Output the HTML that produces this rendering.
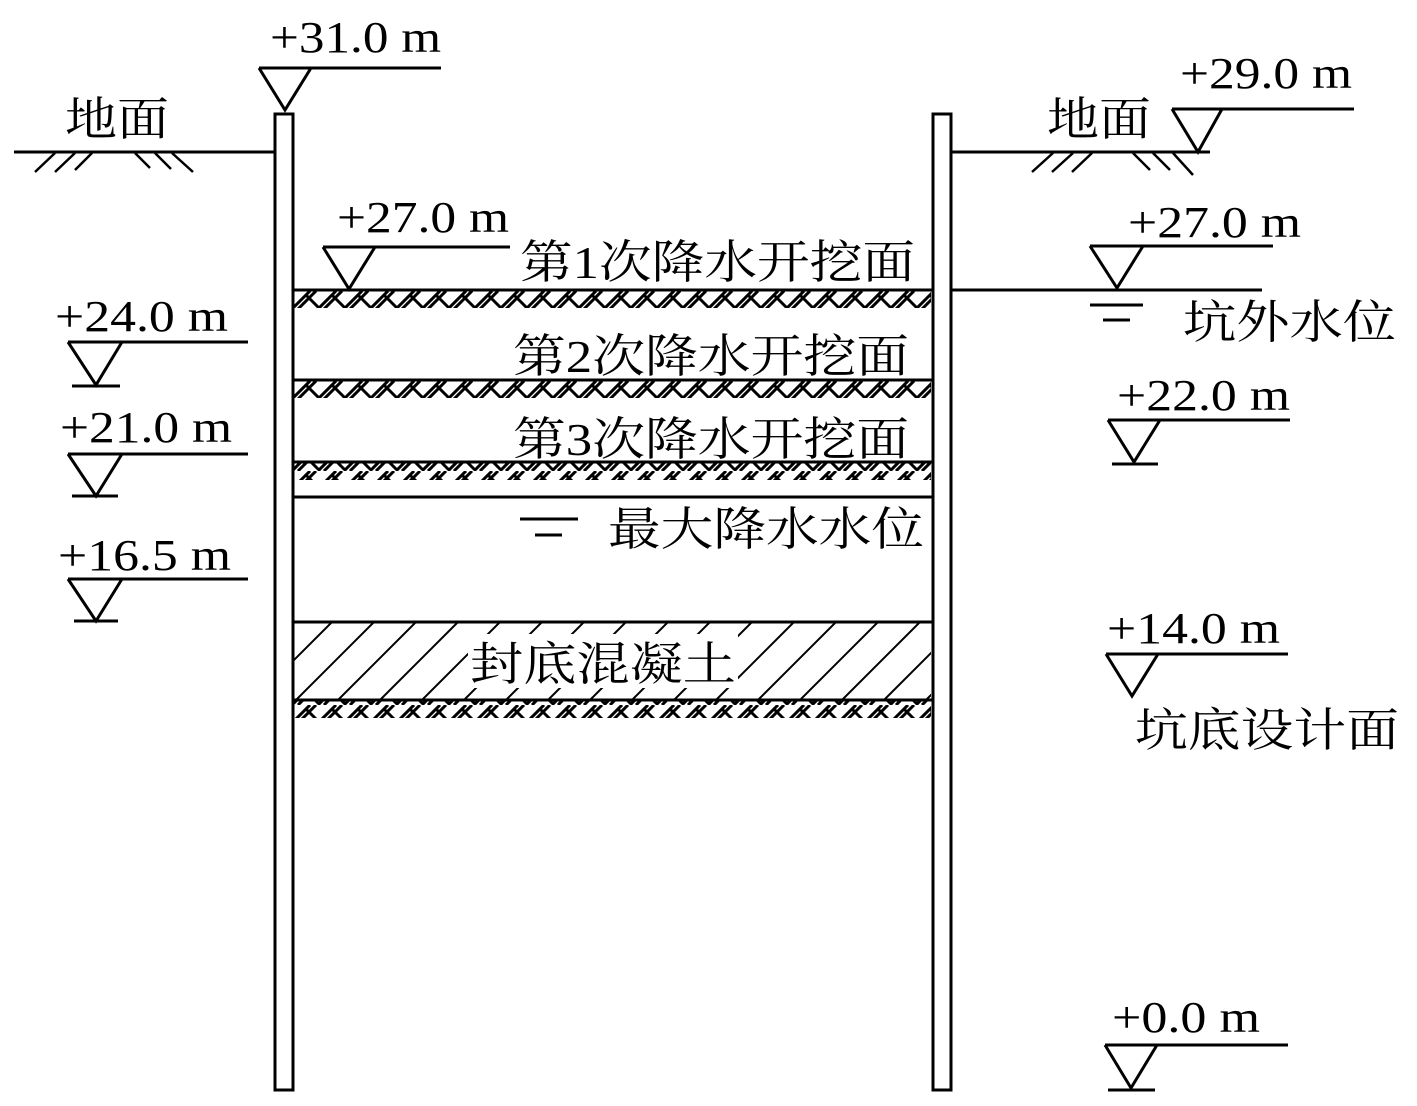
<!DOCTYPE html>
<html><head><meta charset="utf-8"><style>
html,body{margin:0;padding:0;background:#fff}
svg{display:block}
text{font-family:"Liberation Serif","Noto Serif CJK SC",serif;fill:#000}
.n{font-size:44px}
.c{font-size:46px}
</style></head><body>
<svg width="1417" height="1106" viewBox="0 0 1417 1106" xmlns="http://www.w3.org/2000/svg">
<defs>
<pattern id="soil" patternUnits="userSpaceOnUse" x="294" y="291" width="26" height="18">
<path d="M-2 18 L16 0 M4 18 L22 0 M24 18 L42 0 M30 18 L48 0 M-28 18 L-10 0 M-22 18 L-4 0 M13 5 L24 16" stroke="#000" stroke-width="3" fill="none"/>
</pattern>
<pattern id="conc" patternUnits="userSpaceOnUse" x="294" y="622" width="42" height="78">
<path d="M-40 78 L38 0 M2 78 L80 0" stroke="#000" stroke-width="2" fill="none"/>
</pattern>
</defs>
<g stroke="#000" stroke-width="3" fill="none">
<rect x="275" y="114" width="18" height="976" fill="#fff"/>
<rect x="933" y="114" width="18" height="976" fill="#fff"/>
<line x1="14" y1="152" x2="274" y2="152"/>
<path d="M55 153 L35 172 M75 153 L55 172 M92 153 L75 170 M135 153 L150 168 M155 153 L171 169 M172 153 L193 172" stroke-width="2.5"/>
<line x1="952" y1="152" x2="1210" y2="152"/>
<path d="M1053 153 L1032 172 M1073 153 L1052 172 M1092 153 L1072 172 M1133 153 L1150 170 M1153 153 L1170 170 M1173 153 L1193 175" stroke-width="2.5"/>
<line x1="952" y1="290" x2="1262" y2="290"/>
<line x1="1090" y1="305" x2="1143" y2="305"/>
<line x1="1103" y1="320" x2="1130" y2="320"/>
<line x1="293" y1="290" x2="932" y2="290"/>
<line x1="293" y1="380" x2="932" y2="380"/>
<line x1="293" y1="462" x2="932" y2="462"/>
<line x1="293" y1="497" x2="932" y2="497"/>
<line x1="293" y1="622" x2="932" y2="622"/>
<line x1="293" y1="700" x2="932" y2="700"/>
<line x1="520" y1="519" x2="578" y2="519"/>
<line x1="535" y1="535" x2="562" y2="535"/>
<path d="M259 68 L441 68 M259 68 L285 110 L311 68"/>
<path d="M323 247 L510 247 M323 247 L349 289 L375 247"/>
<path d="M68 342 L248 342 M68 342 L96 385 L122 342 M72 386 L120 386"/>
<path d="M68 454 L248 454 M68 454 L96 496 L122 454 M72 496 L118 496"/>
<path d="M68 579 L248 579 M68 579 L96 621 L122 579 M74 621 L118 621"/>
<path d="M1172 109 L1354 109 M1172 109 L1198 152 L1222 109"/>
<path d="M1090 246 L1273 246 M1090 246 L1117 288 L1143 246"/>
<path d="M1108 420 L1290 420 M1108 420 L1134 462 L1160 420 M1112 464 L1158 464"/>
<path d="M1106 654 L1288 654 M1106 654 L1132 696 L1158 654"/>
<path d="M1105 1045 L1288 1045 M1105 1045 L1131 1088 L1157 1045 M1108 1090 L1155 1090"/>
</g>
<rect x="294" y="291" width="637" height="17" fill="url(#soil)"/>
<rect x="294" y="381" width="637" height="17" fill="url(#soil)"/>
<rect x="294" y="463" width="637" height="17" fill="url(#soil)"/>
<rect x="294" y="701" width="637" height="17" fill="url(#soil)"/>
<rect x="294" y="623" width="637" height="76" fill="url(#conc)"/>
<rect x="468" y="634" width="270" height="54" fill="#fff"/>
<text class="n" x="270" y="52" textLength="171" lengthAdjust="spacingAndGlyphs">+31.0 m</text>
<text class="n" x="337" y="232" textLength="172" lengthAdjust="spacingAndGlyphs">+27.0 m</text>
<text class="n" x="55" y="331" textLength="173" lengthAdjust="spacingAndGlyphs">+24.0 m</text>
<text class="n" x="60" y="442" textLength="172" lengthAdjust="spacingAndGlyphs">+21.0 m</text>
<text class="n" x="58" y="570" textLength="173" lengthAdjust="spacingAndGlyphs">+16.5 m</text>
<text class="n" x="1180" y="88" textLength="172" lengthAdjust="spacingAndGlyphs">+29.0 m</text>
<text class="n" x="1128" y="237" textLength="173" lengthAdjust="spacingAndGlyphs">+27.0 m</text>
<text class="n" x="1117" y="410" textLength="173" lengthAdjust="spacingAndGlyphs">+22.0 m</text>
<text class="n" x="1107" y="643" textLength="173" lengthAdjust="spacingAndGlyphs">+14.0 m</text>
<text class="n" x="1112" y="1032" textLength="148" lengthAdjust="spacingAndGlyphs">+0.0 m</text>
<text class="c" x="65" y="135" textLength="104" lengthAdjust="spacingAndGlyphs">地面</text>
<text class="c" x="1047" y="135" textLength="104" lengthAdjust="spacingAndGlyphs">地面</text>
<text class="c" x="520" y="278" textLength="395" lengthAdjust="spacingAndGlyphs">第1次降水开挖面</text>
<text class="c" x="513" y="372" textLength="396" lengthAdjust="spacingAndGlyphs">第2次降水开挖面</text>
<text class="c" x="513" y="455" textLength="396" lengthAdjust="spacingAndGlyphs">第3次降水开挖面</text>
<text class="c" x="608" y="545" textLength="316" lengthAdjust="spacingAndGlyphs">最大降水水位</text>
<text class="c" x="470" y="680" textLength="266" lengthAdjust="spacingAndGlyphs">封底混凝土</text>
<text class="c" x="1183" y="338" textLength="213" lengthAdjust="spacingAndGlyphs">坑外水位</text>
<text class="c" x="1135" y="746" textLength="264" lengthAdjust="spacingAndGlyphs">坑底设计面</text>
</svg>
</body></html>
